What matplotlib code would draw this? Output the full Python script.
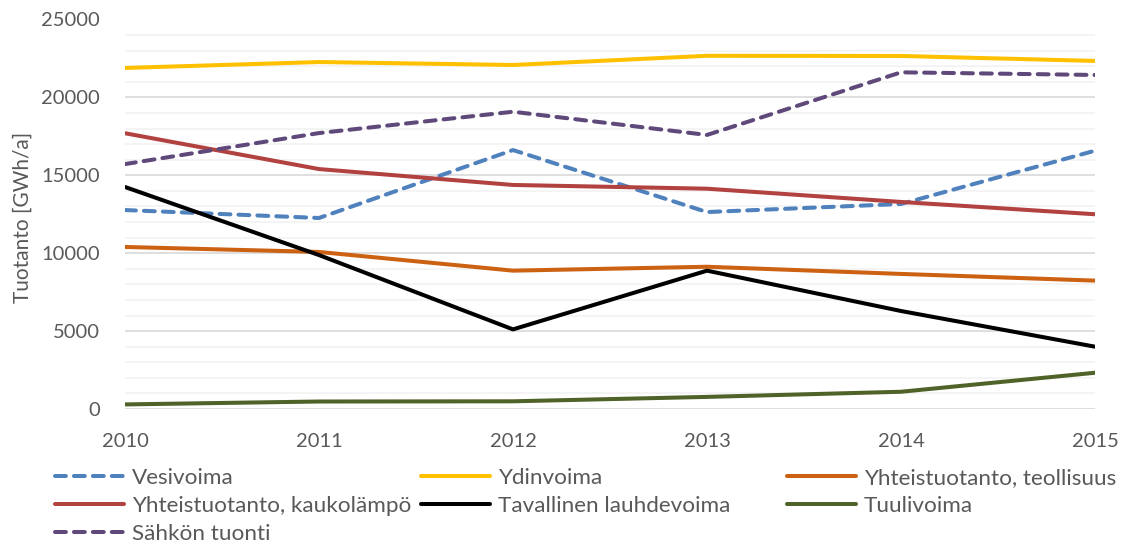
import matplotlib.pyplot as plt
from matplotlib.lines import Line2D
from matplotlib.ticker import MultipleLocator

years = [2010, 2011, 2012, 2013, 2014, 2015]

vesivoima = [12770, 12260, 16620, 12640, 13160, 16580]
ydinvoima = [21890, 22270, 22080, 22670, 22660, 22340]
teollisuus = [10400, 10080, 8880, 9130, 8670, 8240]
kaukolampo = [17700, 15400, 14380, 14140, 13290, 12500]
lauhdevoima = [14250, 9880, 5110, 8880, 6290, 4000]
tuulivoima = [294, 481, 494, 777, 1107, 2327]
tuonti = [15720, 17710, 19080, 17590, 21610, 21440]

series = [
    ("Vesivoima", vesivoima, "#4F81BD", True),
    ("Ydinvoima", ydinvoima, "#FFC000", False),
    ("Yhteistuotanto, teollisuus", teollisuus, "#CC6112", False),
    ("Yhteistuotanto, kaukolämpö", kaukolampo, "#B1423F", False),
    ("Tavallinen lauhdevoima", lauhdevoima, "#000000", False),
    ("Tuulivoima", tuulivoima, "#4F6228", False),
    ("Sähkön tuonti", tuonti, "#5F497A", True),
]

plt.rcParams["font.family"] = ["Lato", "DejaVu Sans"]
TXT = "#595959"
FS = 14.5
LEG_FS = 16.2
LW = 2.9
DASH = (0, (2.7, 2.0))

fig = plt.figure(figsize=(11.27, 5.44), dpi=100)
ax = fig.add_axes([125 / 1127, 1 - 409 / 544, 970 / 1127, 389.5 / 544])

handles = {}
for name, vals, color, dashed in series:
    ls = DASH if dashed else "-"
    ax.plot(years, vals, color=color, lw=LW, linestyle=ls,
            dash_capstyle="round", solid_capstyle="round",
            solid_joinstyle="round", zorder=3)
    handles[name] = Line2D([0], [0], color=color, lw=LW, linestyle=ls,
                           dash_capstyle="round", solid_capstyle="round")

ax.set_xlim(2010, 2015)
ax.set_ylim(0, 25000)
ax.yaxis.set_major_locator(MultipleLocator(5000))
ax.yaxis.set_minor_locator(MultipleLocator(1000))
ax.set_xticks(years)
ax.grid(axis="y", which="major", color="#D9D9D9", lw=1.2, zorder=0)
ax.grid(axis="y", which="minor", color="#F2F2F2", lw=1.2, zorder=0)
ax.set_axisbelow(True)
for s in ax.spines.values():
    s.set_visible(False)
ax.tick_params(which="both", length=0, labelsize=FS, labelcolor=TXT)
ax.tick_params(axis="x", pad=17)
ax.tick_params(axis="y", pad=18)

fig.text(23 / 1127, 1 - 217 / 544, "Tuotanto [GWh/a]", rotation=90,
         ha="center", va="center", fontsize=FS + 0.5, color=TXT)

columns = [
    ["Vesivoima", "Yhteistuotanto, kaukolämpö", "Sähkön tuonti"],
    ["Ydinvoima", "Tavallinen lauhdevoima"],
    ["Yhteistuotanto, teollisuus", "Tuulivoima"],
]
col_x = [55, 421, 787]
for names, x in zip(columns, col_x):
    fig.legend([handles[n] for n in names], names, loc="upper left",
               bbox_to_anchor=(x / 1127, 1 - 468 / 544), frameon=False,
               fontsize=LEG_FS, labelcolor=TXT, handlelength=3.07,
               handletextpad=0.35, borderpad=0, borderaxespad=0,
               labelspacing=0.35)

fig.savefig("out.png", dpi=100)
